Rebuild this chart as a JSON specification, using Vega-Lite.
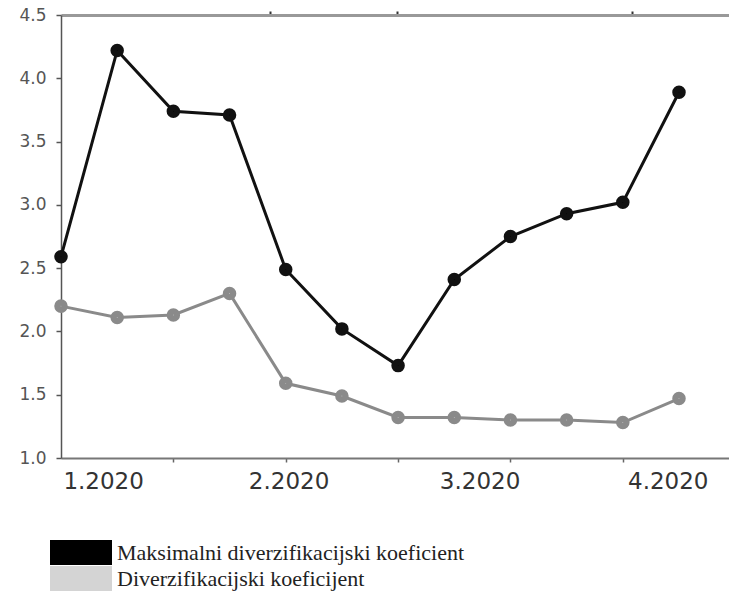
{
  "$schema": "https://vega.github.io/schema/vega-lite/v6.json",
  "width": 668,
  "height": 443,
  "autosize": "none",
  "padding": {"left": 61, "top": 15, "right": 0, "bottom": 136},
  "background": "white",
  "config": {"view": {"stroke": null}},
  "data": {
    "values": [
      {"t": 0, "series": "Diverzifikacijski koeficijent", "v": 2.20},
      {"t": 1, "series": "Diverzifikacijski koeficijent", "v": 2.11},
      {"t": 2, "series": "Diverzifikacijski koeficijent", "v": 2.13},
      {"t": 3, "series": "Diverzifikacijski koeficijent", "v": 2.30},
      {"t": 4, "series": "Diverzifikacijski koeficijent", "v": 1.59},
      {"t": 5, "series": "Diverzifikacijski koeficijent", "v": 1.49},
      {"t": 6, "series": "Diverzifikacijski koeficijent", "v": 1.32},
      {"t": 7, "series": "Diverzifikacijski koeficijent", "v": 1.32},
      {"t": 8, "series": "Diverzifikacijski koeficijent", "v": 1.30},
      {"t": 9, "series": "Diverzifikacijski koeficijent", "v": 1.30},
      {"t": 10, "series": "Diverzifikacijski koeficijent", "v": 1.28},
      {"t": 11, "series": "Diverzifikacijski koeficijent", "v": 1.47},
      {"t": 0, "series": "Maksimalni diverzifikacijski koeficient", "v": 2.59},
      {"t": 1, "series": "Maksimalni diverzifikacijski koeficient", "v": 4.22},
      {"t": 2, "series": "Maksimalni diverzifikacijski koeficient", "v": 3.74},
      {"t": 3, "series": "Maksimalni diverzifikacijski koeficient", "v": 3.71},
      {"t": 4, "series": "Maksimalni diverzifikacijski koeficient", "v": 2.49},
      {"t": 5, "series": "Maksimalni diverzifikacijski koeficient", "v": 2.02},
      {"t": 6, "series": "Maksimalni diverzifikacijski koeficient", "v": 1.73},
      {"t": 7, "series": "Maksimalni diverzifikacijski koeficient", "v": 2.41},
      {"t": 8, "series": "Maksimalni diverzifikacijski koeficient", "v": 2.75},
      {"t": 9, "series": "Maksimalni diverzifikacijski koeficient", "v": 2.93},
      {"t": 10, "series": "Maksimalni diverzifikacijski koeficient", "v": 3.02},
      {"t": 11, "series": "Maksimalni diverzifikacijski koeficient", "v": 3.89}
    ]
  },
  "encoding": {
    "y": {
      "field": "v",
      "type": "quantitative",
      "scale": {"domain": [1, 4.5], "nice": false, "zero": false},
      "axis": {
        "title": null,
        "values": [1, 1.5, 2, 2.5, 3, 3.5, 4, 4.5],
        "format": ".1f",
        "grid": false,
        "domainColor": "#555",
        "domainWidth": 1.5,
        "tickColor": "#555",
        "tickSize": 5,
        "tickWidth": 1.5,
        "labelFont": "DejaVu Sans",
        "labelFontSize": 17,
        "labelColor": "#555",
        "labelPadding": 10
      }
    },
    "stroke": {
      "field": "series",
      "type": "nominal",
      "scale": {"range": ["#8a8a8a", "#111111"]},
      "legend": null
    }
  },
  "layer": [
    {
      "mark": {"type": "line", "strokeWidth": 3},
      "encoding": {
        "x": {
          "field": "t",
          "type": "quantitative",
          "scale": {"domain": [0, 11.89], "nice": false, "zero": false},
          "axis": {
            "orient": "bottom",
            "title": null,
            "grid": false,
            "values": [0.75, 2, 4, 4.05, 6, 7.45, 8, 10, 10.8],
            "labelExpr": "datum.value == 0.75 ? '1.2020' : datum.value == 4.05 ? '2.2020' : datum.value == 7.45 ? '3.2020' : datum.value == 10.8 ? '4.2020' : ''",
            "labelOverlap": false,
            "labelFont": "DejaVu Sans",
            "labelFontSize": 23,
            "labelColor": "#333",
            "labelPadding": 8,
            "labelFlush": false,
            "domainColor": "#777",
            "domainWidth": 2,
            "tickColor": "#666",
            "tickSize": 4,
            "tickWidth": 1.5,
            "tickOpacity": {"condition": {"test": "datum.value == floor(datum.value)", "value": 1}, "value": 0}
          }
        }
      }
    },
    {
      "mark": {"type": "point", "filled": false, "opacity": 1, "size": 40, "strokeWidth": 7.2},
      "encoding": {
        "x": {
          "field": "t",
          "type": "quantitative",
          "axis": {
            "orient": "top",
            "title": null,
            "grid": false,
            "values": [3.72, 5.98, 10.16],
            "labels": false,
            "domainColor": "#999",
            "domainWidth": 3,
            "tickColor": "#333",
            "tickSize": 4,
            "tickWidth": 2
          }
        },
        "fill": {
          "field": "series",
          "type": "nominal",
          "scale": {
            "domain": ["Maksimalni diverzifikacijski koeficient", "Diverzifikacijski koeficijent"],
            "range": ["#000000", "#d4d4d4"]
          },
          "legend": {
            "orient": "none",
            "legendX": -11,
            "legendY": 525,
            "direction": "vertical",
            "title": null,
            "symbolType": "M-1,-1L3.96,-1L3.96,1L-1,1Z",
            "symbolSize": 625,
            "symbolStrokeWidth": 0,
            "symbolOpacity": 1,
            "rowPadding": 1,
            "labelOffset": 42,
            "labelFont": "Liberation Serif",
            "labelFontSize": 22,
            "labelColor": "#222",
            "labelLimit": 600
          }
        }
      }
    }
  ],
  "resolve": {"axis": {"x": "independent"}}
}
